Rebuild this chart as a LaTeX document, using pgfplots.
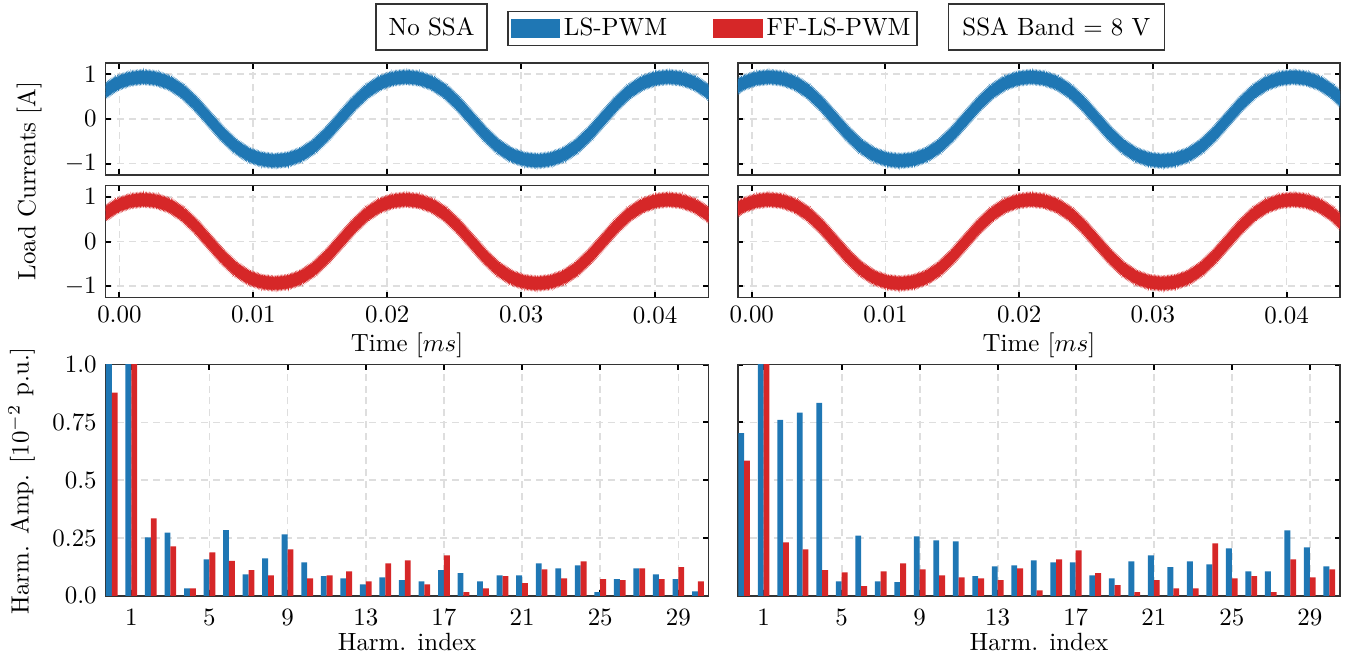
\documentclass[border=0pt]{standalone}
\usepackage{pgfplots}
\pgfplotsset{compat=1.18}
\usepgfplotslibrary{fillbetween}
\usetikzlibrary{decorations.pathmorphing}
\usepackage{pgfplotstable}
\definecolor{cblue}{HTML}{1F77B4}
\definecolor{cred}{HTML}{D62728}

\pgfplotstableread{
tL tR lo hi
-0.00114 -0.00164 0.514 0.714
-0.00016 -0.00066 0.705 0.905
0.00082 0.00032 0.808 1.008
0.0018 0.0013 0.840 1.040
0.00278 0.00228 0.808 1.008
0.00376 0.00326 0.705 0.905
0.00474 0.00424 0.514 0.714
0.00572 0.00522 0.235 0.435
0.0067 0.0062 -0.100 0.100
0.00768 0.00718 -0.435 -0.235
0.00866 0.00816 -0.714 -0.514
0.00964 0.00914 -0.905 -0.705
0.01062 0.01012 -1.008 -0.808
0.0116 0.0111 -1.040 -0.840
0.01258 0.01208 -1.008 -0.808
0.01356 0.01306 -0.905 -0.705
0.01454 0.01404 -0.714 -0.514
0.01552 0.01502 -0.435 -0.235
0.0165 0.016 -0.100 0.100
0.01748 0.01698 0.235 0.435
0.01846 0.01796 0.514 0.714
0.01944 0.01894 0.705 0.905
0.02042 0.01992 0.808 1.008
0.0214 0.0209 0.840 1.040
0.02238 0.02188 0.808 1.008
0.02336 0.02286 0.705 0.905
0.02434 0.02384 0.514 0.714
0.02532 0.02482 0.235 0.435
0.0263 0.0258 -0.100 0.100
0.02728 0.02678 -0.435 -0.235
0.02826 0.02776 -0.714 -0.514
0.02924 0.02874 -0.905 -0.705
0.03022 0.02972 -1.008 -0.808
0.0312 0.0307 -1.040 -0.840
0.03218 0.03168 -1.008 -0.808
0.03316 0.03266 -0.905 -0.705
0.03414 0.03364 -0.714 -0.514
0.03512 0.03462 -0.435 -0.235
0.0361 0.0356 -0.100 0.100
0.03708 0.03658 0.235 0.435
0.03806 0.03756 0.514 0.714
0.03904 0.03854 0.705 0.905
0.04002 0.03952 0.808 1.008
0.041 0.0405 0.840 1.040
0.04198 0.04148 0.808 1.008
0.04296 0.04246 0.705 0.905
0.04394 0.04344 0.514 0.714
0.04492 0.04442 0.235 0.435
}\wave

\pgfplotstableread{
h bL rL bR rR
0 1.05 0.879 0.704 0.585
1 1.2 1.2 1.2 1.2
2 0.253 0.335 0.761 0.231
3 0.274 0.214 0.792 0.201
4 0.033 0.033 0.835 0.111
5 0.158 0.188 0.063 0.102
6 0.284 0.151 0.261 0.042
7 0.093 0.111 0.063 0.106
8 0.162 0.089 0.059 0.141
9 0.266 0.201 0.257 0.115
10 0.145 0.076 0.240 0.089
11 0.085 0.089 0.236 0.080
12 0.076 0.106 0.085 0.076
13 0.050 0.063 0.128 0.068
14 0.080 0.141 0.132 0.119
15 0.068 0.154 0.154 0.024
16 0.063 0.050 0.145 0.158
17 0.111 0.175 0.145 0.197
18 0.098 0.016 0.089 0.098
19 0.063 0.033 0.076 0.046
20 0.089 0.085 0.149 0.016
21 0.089 0.055 0.175 0.068
22 0.141 0.115 0.124 0.033
23 0.119 0.076 0.149 0.033
24 0.132 0.149 0.136 0.227
25 0.016 0.072 0.205 0.076
26 0.072 0.068 0.106 0.085
27 0.119 0.119 0.106 0.016
28 0.093 0.072 0.283 0.158
29 0.072 0.124 0.210 0.080
30 0.020 0.063 0.128 0.115
}\harm

\pgfplotsset{
  base/.style={scale only axis, anchor=north west,
    axis line style={black!80, line width=0.6pt},
    tick align=inside, major tick length=2.2pt,
    every tick/.style={black, line width=0.8pt},
    xmajorgrids, ymajorgrids,
    major grid style={black!13, line width=0.7pt, dash pattern=on 2.8pt off 2pt},
    scaled x ticks=false, scaled y ticks=false},
  wave/.style={base, width=242pt, height=44.8pt,
    xmin=-0.00104, xmax=0.044, ymin=-1.25, ymax=1.25,
    xtick={0,0.01,0.02,0.03,0.04}, ytick={-1,0,1}, xticklabels={}},
  wavex/.style={xticklabels={0.00,0.01,0.02,0.03,0.04},
    xlabel={Time [$ms$]},
    xlabel style={at={(axis description cs:0.5,-0.43)}, anchor=center}},
  bars/.style={base, width=242pt, height=92.8pt,
    xmin=-0.32, xmax=30.55, ymin=0, ymax=1,
    xtick={1,5,...,29}, ytick={0,0.25,0.5,0.75,1},
    xticklabel style={yshift=-1.8pt},
    xlabel={Harm. index},
    xlabel style={at={(axis description cs:0.5,-0.2)}, anchor=center}},
  fuzz/.style={#1, line width=0.45pt, decorate,
    decoration={zigzag, amplitude=0.6pt, segment length=0.55pt}},
}

\begin{document}
\begin{tikzpicture}
\path (0,0) rectangle (540.4pt,-264pt);

% top-left (blue, no SSA)
\begin{axis}[wave, at={(40.68pt,-25.32pt)},
  legend style={at={(1.0063,1.3107)}, anchor=center, legend columns=2,
    draw=black!80, line width=0.6pt, inner xsep=1pt, inner ysep=1pt,
    nodes={inner sep=1.5pt},
    /tikz/every even column/.append style={column sep=17pt}}]
\addplot[name path=a1, draw=none, forget plot] table[x=tL, y=hi]{\wave};
\addplot[name path=a2, draw=none, forget plot] table[x=tL, y=lo]{\wave};
\addplot[fill=cblue, draw=none, forget plot] fill between[of=a1 and a2];
\addplot[fuzz=cblue, forget plot] table[x=tL, y=hi]{\wave};
\addplot[fuzz=cblue, forget plot] table[x=tL, y=lo]{\wave};
\addlegendimage{legend image code/.code={\fill[cblue] (0pt,-3.35pt) rectangle (19.3pt,3.35pt);}}
\addlegendentry{LS-PWM}
\addlegendimage{legend image code/.code={\fill[cred] (0pt,-3.35pt) rectangle (19.3pt,3.35pt);}}
\addlegendentry{FF-LS-PWM}
\end{axis}

% middle-left (red, no SSA)
\begin{axis}[wave, wavex, at={(40.68pt,-74.52pt)}]
\addplot[name path=b1, draw=none, forget plot] table[x=tL, y=hi]{\wave};
\addplot[name path=b2, draw=none, forget plot] table[x=tL, y=lo]{\wave};
\addplot[fill=cred, draw=none, forget plot] fill between[of=b1 and b2];
\addplot[fuzz=cred, forget plot] table[x=tL, y=hi]{\wave};
\addplot[fuzz=cred, forget plot] table[x=tL, y=lo]{\wave};
\end{axis}

% top-right (blue, SSA)
\begin{axis}[wave, yticklabels={}, at={(294.4pt,-25.32pt)}, width=241.6pt]
\addplot[name path=c1, draw=none, forget plot] table[x=tR, y=hi]{\wave};
\addplot[name path=c2, draw=none, forget plot] table[x=tR, y=lo]{\wave};
\addplot[fill=cblue, draw=none, forget plot] fill between[of=c1 and c2];
\addplot[fuzz=cblue, forget plot] table[x=tR, y=hi]{\wave};
\addplot[fuzz=cblue, forget plot] table[x=tR, y=lo]{\wave};
\end{axis}

% middle-right (red, SSA)
\begin{axis}[wave, wavex, yticklabels={}, at={(294.4pt,-74.52pt)}, width=241.6pt]
\addplot[name path=d1, draw=none, forget plot] table[x=tR, y=hi]{\wave};
\addplot[name path=d2, draw=none, forget plot] table[x=tR, y=lo]{\wave};
\addplot[fill=cred, draw=none, forget plot] fill between[of=d1 and d2];
\addplot[fuzz=cred, forget plot] table[x=tR, y=hi]{\wave};
\addplot[fuzz=cred, forget plot] table[x=tR, y=lo]{\wave};
\end{axis}

% bottom-left bars
\begin{axis}[bars, at={(40.68pt,-146.28pt)},
  yticklabels={0.0,0.25,0.5,0.75,1.0}]
\addplot[ybar, bar width=0.3, bar shift=-0.15, fill=cblue, draw=none] table[x=h, y=bL]{\harm};
\addplot[ybar, bar width=0.3, bar shift=0.15, fill=cred, draw=none] table[x=h, y=rL]{\harm};
\end{axis}

% bottom-right bars
\begin{axis}[bars, at={(294.4pt,-146.28pt)}, width=241.6pt, yticklabels={}]
\addplot[ybar, bar width=0.3, bar shift=-0.15, fill=cblue, draw=none] table[x=h, y=bR]{\harm};
\addplot[ybar, bar width=0.3, bar shift=0.15, fill=cred, draw=none] table[x=h, y=rR]{\harm};
\end{axis}

\node[rotate=90] at (10pt,-72.6pt) {Load Currents [A]};
\node[rotate=90] at (7pt,-193pt) {Harm. Amp. [$10^{-2}$ p.u.]};
\node[draw=black!80, line width=0.6pt, minimum width=44.5pt, minimum height=18.4pt, inner sep=0pt] at (171.5pt,-10.8pt) {No SSA};
\node[draw=black!80, line width=0.6pt, minimum width=86.7pt, minimum height=18.4pt, inner sep=0pt] at (422.2pt,-10.8pt) {SSA Band $=$ 8 V};
\end{tikzpicture}
\end{document}
